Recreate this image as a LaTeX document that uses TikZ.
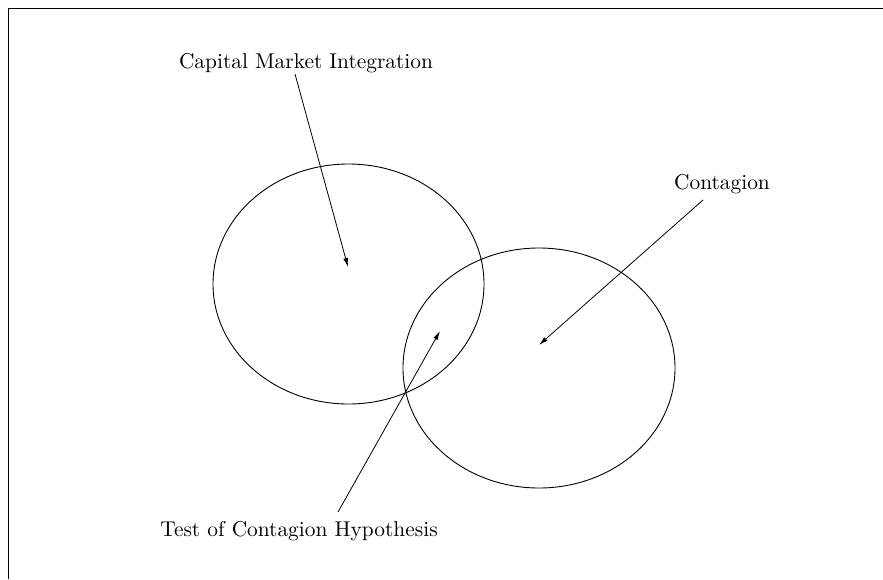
\documentclass[tikz,border=0pt]{standalone}
\usetikzlibrary{arrows.meta}
\begin{document}
\begin{tikzpicture}[x=0.5pt,y=-0.5pt,
  label text/.style={font=\fontsize{10.7}{13}\selectfont, inner sep=0pt},
  pointer/.style={-{Latex[length=4.5pt,width=2.4pt]}, line width=0.4pt},
  set ring/.style={line width=0.45pt}]
  \useasboundingbox (0,0) rectangle (883,579);
  % open frame
  \draw[line width=0.45pt] (8,579) -- (8,8) -- (883,8);
  % the two overlapping sets
  \draw[set ring] (348.5,284) ellipse [x radius=135.5, y radius=120];
  \draw[set ring] (539,368) ellipse [x radius=136, y radius=120];
  % labels
  \node[label text] (cmi) at (306,63) {Capital Market Integration};
  \node[label text] (cont) at (722,184) {Contagion};
  \node[label text] (test) at (299,531) {Test of Contagion Hypothesis};
  % pointer tails and heads
  \coordinate (cmiTail) at (295,74);
  \coordinate (cmiHead) at (348,267);
  \coordinate (contTail) at (703,200);
  \coordinate (contHead) at (539,345);
  \coordinate (testTail) at (338,512);
  \coordinate (testHead) at (440,331);
  \draw[pointer] (cmiTail) -- (cmiHead);
  \draw[pointer] (contTail) -- (contHead);
  \draw[pointer] (testTail) -- (testHead);
\end{tikzpicture}
\end{document}
